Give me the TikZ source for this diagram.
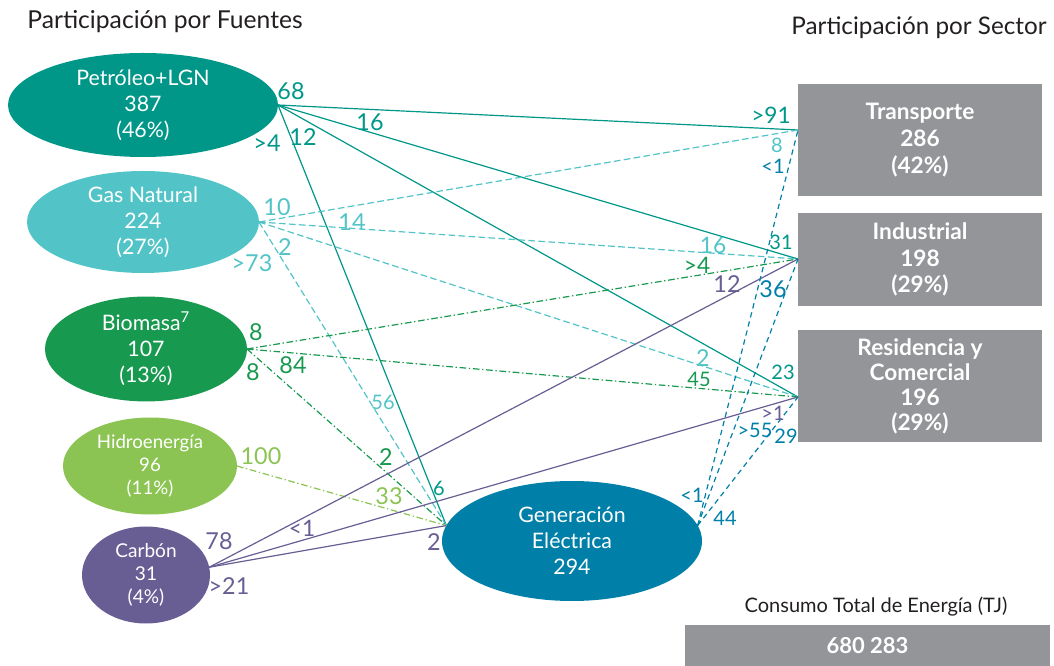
\documentclass[tikz,border=0pt]{standalone}
\usepackage{fontspec}
\setmainfont{Lato}
\usetikzlibrary{shapes.geometric}
\newdimen\pix \pix=0.75pt
\definecolor{petcol}{HTML}{009789}
\definecolor{gascol}{HTML}{52C4C7}
\definecolor{biocol}{HTML}{17994F}
\definecolor{hidcol}{HTML}{8BC453}
\definecolor{carcol}{HTML}{685E93}
\definecolor{gencol}{HTML}{0080A8}
\definecolor{sectcol}{HTML}{939598}
\definecolor{titcol}{HTML}{231F20}
\tikzstyle{every node}=[inner sep=0pt, outer sep=0pt]
\tikzstyle{source}=[ellipse, text=white, align=center, font=\fontsize{16}{19.5}\selectfont]
\tikzstyle{sector}=[rectangle, fill=sectcol, text=white, align=center, minimum width=244\pix, font=\fontsize{17}{20}\selectfont\bfseries]
\tikzstyle{lblbig}=[font=\fontsize{17.5}{17.5}\selectfont]
\tikzstyle{lblmid}=[font=\fontsize{17}{17}\selectfont]
\tikzstyle{lblsm}=[font=\fontsize{15}{15}\selectfont]
\tikzstyle{flow}=[line width=0.9pt]
\tikzstyle{petflow}=[flow, petcol]
\tikzstyle{gasflow}=[flow, gascol, dash pattern=on 5pt off 2.5pt]
\tikzstyle{bioflow}=[flow, biocol, dash pattern=on 5pt off 2pt on 1pt off 2pt]
\tikzstyle{hidflow}=[flow, hidcol, dash pattern=on 5pt off 2pt on 1pt off 2pt]
\tikzstyle{carflow}=[flow, carcol]
\tikzstyle{genflow}=[flow, gencol, dash pattern=on 4pt off 3pt]

\begin{document}
\begin{tikzpicture}[x=0.75pt, y=-0.75pt]
	\useasboundingbox (0,0) rectangle (1054,666);
	% titles
	\node[text=titcol, font=\fontsize{18.5}{18.5}\selectfont] (tfuentes) at (165,22) {Participación por Fuentes};
	\node[text=titcol, font=\fontsize{18.2}{18.2}\selectfont] (tsector) at (919,28) {Participación por Sector};
	% sources
	\node[source, fill=petcol, minimum width=270\pix, minimum height=104\pix] (pet) at (143,105) {Petróleo+LGN\\387\\(46\%)};
	\node[source, fill=gascol, minimum width=232\pix, minimum height=102\pix] (gas) at (143,222) {Gas Natural\\224\\(27\%)};
	\node[source, fill=biocol, minimum width=202\pix, minimum height=98\pix] (bio) at (146,349) {Biomasa\textsuperscript{7}\\107\\(13\%)};
	\node[source, fill=hidcol, minimum width=174\pix, minimum height=97\pix, font=\fontsize{14}{17}\selectfont] (hid) at (150,466) {Hidroenergía\\96\\(11\%)};
	\node[source, fill=carcol, minimum width=128\pix, minimum height=97\pix, font=\fontsize{14.3}{17}\selectfont] (car) at (146,575) {Carbón\\31\\(4\%)};
	\node[source, fill=gencol, minimum width=260\pix, minimum height=120\pix] (gen) at (572,541) {Generación\\Eléctrica\\294};
	% sectors
	\node[sector, minimum height=112\pix] (trans) at (920,140) {Transporte\\286\\(42\%)};
	\node[sector, minimum height=93\pix] (indus) at (920,259.5) {Industrial\\198\\(29\%)};
	\node[sector, minimum height=112\pix, font=\fontsize{17}{18.75}\selectfont\bfseries] (resid) at (920,386) {Residencia y\\Comercial\\196\\(29\%)};
	\node[text=titcol, font=\fontsize{15}{15}\selectfont] (ttotal) at (876,607) {Consumo Total de Energía (TJ)};
	\node[sector, minimum width=365\pix, minimum height=41\pix, font=\fontsize{16.5}{16.5}\selectfont\bfseries] (total) at (867.5,645.5) {680 283};
	% entry points
	\coordinate (tin) at (798,130);
	\coordinate (iin) at (798,259);
	\coordinate (rin) at (798,397);
	\coordinate (gin) at (gen.173);
	\coordinate (gout) at (gen.7);
	% flows
	\draw[petflow] (pet.east) -- (tin); \draw[petflow] (pet.east) -- (iin); \draw[petflow] (pet.east) -- (rin); \draw[petflow] (pet.east) -- (gin); % petroleo
	\draw[gasflow] (gas.east) -- (tin); \draw[gasflow] (gas.east) -- (iin); \draw[gasflow] (gas.east) -- (rin); \draw[gasflow] (gas.east) -- (gin); % gas
	\draw[bioflow] (bio.east) -- (iin); \draw[bioflow] (bio.east) -- (rin); \draw[bioflow] (bio.east) -- (gin); % biomasa
	\draw[hidflow] (hid.east) -- (gin); % hidro
	\draw[carflow] (car.7) -- (iin); \draw[carflow] (car.7) -- (rin); \draw[carflow] (car.7) -- (gin); % carbon
	\draw[genflow] (gout) -- (tin); \draw[genflow] (gout) -- (iin); \draw[genflow] (gout) -- (rin); % generacion
	% labels petroleo
	\node[lblbig, text=petcol] (p68) at (291,91) {68};
	\node[lblbig, text=petcol] (p16) at (370,122) {16};
	\node[lblbig, text=petcol] (p12) at (303,137) {12};
	\node[lblbig, text=petcol] (p4) at (267,143) {>4};
	\node[lblmid, text=petcol] (p91) at (771,115) {>91};
	\node[lblsm, text=petcol] (p31) at (781,242) {31};
	\node[lblsm, text=petcol] (p23) at (783,372) {23};
	\node[lblsm, text=petcol] (p6) at (439,488) {6};
	% labels gas
	\node[lblbig, text=gascol] (g10) at (277,207) {10};
	\node[lblbig, text=gascol] (g14) at (352,222) {14};
	\node[lblbig, text=gascol] (g2) at (285,247) {2};
	\node[lblbig, text=gascol] (g73) at (252,263) {>73};
	\node[lblsm, text=gascol] (g8) at (777,145) {8};
	\node[lblmid, text=gascol] (g16) at (713,245) {16};
	\node[lblbig, text=gascol] (g2r) at (703,358) {2};
	\node[lblsm, text=gascol] (g56) at (383,402) {56};
	% labels biomasa
	\node[lblbig, text=biocol] (b8a) at (256,332) {8};
	\node[lblbig, text=biocol] (b8b) at (253,372) {8};
	\node[lblbig, text=biocol] (b84) at (293,365) {84};
	\node[lblmid, text=biocol] (b4) at (697,265) {>4};
	\node[lblsm, text=biocol] (b45) at (699,379) {45};
	\node[lblbig, text=biocol] (b2) at (386,457) {2};
	% labels hidro
	\node[lblbig, text=hidcol] (h100) at (261,456) {100};
	\node[lblbig, text=hidcol] (h33) at (389,496) {33};
	% labels carbon
	\node[lblbig, text=carcol] (c78) at (219,541) {78};
	\node[lblbig, text=carcol] (c21) at (229,586) {>21};
	\node[lblmid, text=carcol] (c1) at (302,528) {<1};
	\node[lblbig, text=carcol] (c2) at (434,542) {2};
	\node[lblbig, text=carcol] (c12) at (727,284) {12};
	\node[lblsm, text=carcol] (c1r) at (773,413) {>1};
	% labels generacion
	\node[lblsm, text=gencol] (e1) at (692,495) {<1};
	\node[lblsm, text=gencol] (e44) at (725,518) {44};
	\node[lblsm, text=gencol] (e55) at (755,430) {>55};
	\node[lblsm, text=gencol] (e29) at (786,436) {29};
	\node[lblsm, text=gencol] (e1t) at (773,166) {<1};
	\node[lblbig, text=gencol] (e36) at (773,289) {36};
\end{tikzpicture}
\end{document}
